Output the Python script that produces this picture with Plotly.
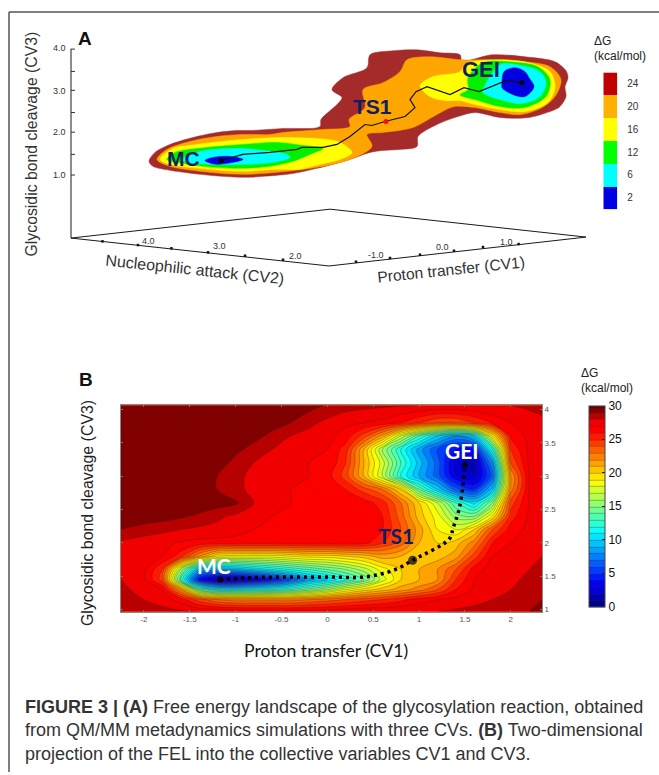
import plotly.graph_objects as go

W, H = 659, 775

# ---------- Panel B data ----------
cv1 = [-2.25,-2.0,-1.8,-1.6,-1.4,-1.2,-1.0,-0.8,-0.6,-0.4,-0.2,0,0.2,0.4,0.6,0.8,1.0,1.2,1.4,1.6,1.8,2.0,2.2,2.34]
cv3 = [0.97,1.15,1.3,1.45,1.6,1.8,2.0,2.2,2.4,2.6,2.8,3.0,3.2,3.4,3.6,3.8,4.06]
dg = [
 [28.4,28.4,28.3,28.2,28.0,28.0,27.8,27.6,27.6,27.6,27.6,27.6,27.8,28.0,28.0,28.0,28.0,28.0,28.2,28.3,28.5,28.6,29.0,29.6],
 [28.3,28.0,27.6,26.5,24.5,23.0,22.5,22.5,22.5,22.5,23.0,23.5,24.0,24.5,25.0,25.7,26.5,27.0,27.3,27.7,28.0,28.2,28.6,29.0],
 [28.2,27.7,27.0,22.0,14.0,11.0,11.0,11.5,12.0,13.0,14.5,16.0,18.0,19.5,20.5,21.5,22.5,24.0,26.0,27.2,27.8,28.0,28.3,28.6],
 [28.0,27.3,24.5,13.0,4.0,1.5,1.5,2.5,4.0,6.0,8.5,10.0,12.0,14.0,17.5,20.0,21.0,22.0,25.0,27.0,27.7,27.9,28.1,28.4],
 [27.9,27.2,25.0,16.0,9.0,8.5,9.0,10.0,11.0,12.0,13.0,14.0,15.0,16.5,18.5,20.0,21.0,22.0,24.0,26.5,27.5,27.8,28.0,28.2],
 [27.8,27.4,27.0,25.5,22.0,19.0,18.5,18.5,18.5,19.0,19.5,19.5,20.0,20.5,21.5,21.0,20.0,20.5,21.5,24.5,27.0,27.5,27.8,28.0],
 [27.8,27.4,27.2,26.9,26.7,26.6,26.6,26.6,26.6,26.6,26.6,26.6,26.6,26.4,25.0,23.5,21.0,20.0,20.5,22.5,26.0,27.0,27.3,27.6],
 [29.0,28.6,28.3,28.0,27.8,27.7,27.4,27.0,27.0,27.0,27.0,27.0,27.0,26.8,26.0,24.0,21.5,19.0,18.0,20.0,24.0,26.5,27.3,27.6],
 [29.8,29.6,29.5,29.2,28.8,28.2,27.8,27.3,27.0,27.0,27.0,27.0,27.0,26.5,26.0,23.5,20.5,18.5,15.5,15.0,19.0,25.5,27.2,27.6],
 [30.0,30.0,29.9,29.9,29.8,29.6,29.2,28.0,27.5,27.0,27.0,27.0,26.8,26.5,25.5,23.0,20.0,17.0,13.0,10.5,15.0,24.5,27.1,27.5],
 [30.0,30.0,30.0,30.0,30.0,29.0,28.2,27.8,27.3,27.0,27.0,26.5,26.0,24.5,23.0,20.0,14.0,10.0,6.5,5.0,9.5,22.5,27.0,27.4],
 [30.0,30.0,30.0,30.0,29.8,29.0,28.2,27.8,27.5,27.2,27.0,26.5,24.5,21.0,17.0,12.0,9.0,6.5,3.0,2.0,6.5,22.0,27.0,27.4],
 [30.0,30.0,30.0,30.0,30.0,29.7,28.6,28.0,27.5,27.2,27.0,27.0,25.0,21.0,17.5,13.0,9.5,6.5,2.5,1.8,8.0,24.0,27.2,27.5],
 [30.0,30.0,30.0,30.0,30.0,29.9,29.3,28.6,28.0,27.5,27.2,27.0,25.5,21.0,16.0,12.0,8.5,6.0,4.0,4.0,12.0,25.0,27.3,27.5],
 [30.0,30.0,30.0,30.0,30.0,30.0,29.9,29.4,28.7,28.0,27.6,27.3,26.6,24.5,21.5,17.0,13.0,10.0,8.0,10.0,19.0,26.3,27.3,27.6],
 [30.0,30.0,30.0,30.0,30.0,30.0,30.0,29.9,29.5,29.0,28.3,27.7,27.2,27.0,26.7,26.0,25.0,24.0,24.0,25.0,26.2,27.0,27.5,27.8],
 [30.0,30.0,30.0,30.0,30.0,30.0,30.0,30.0,30.0,29.9,29.4,28.9,28.5,28.3,28.2,28.1,28.0,28.0,28.0,28.0,28.0,28.0,28.2,28.3],
]
path_b_x = [-1.17,-0.8,-0.4,0.0,0.41,0.74,0.93,1.33,1.37,1.43,1.47,1.5]
path_b_y = [1.45,1.48,1.49,1.49,1.49,1.6,1.74,2.06,2.22,2.47,2.77,3.17]
states_b_x = [-1.17,0.93,1.5]
states_b_y = [1.45,1.74,3.17]
ticks_b_x = [-2,-1.5,-1,-0.5,0,0.5,1,1.5,2]
ticks_b_y = [1,1.5,2,2.5,3,3.5,4]

# ---------- Panel A data (projected 3-D landscape, outlines per energy level) ----------
a24_x = [149,155,170,193,217,237,250,283,320,321,337,342,332,343,367,370,393,417,440,460,462,492,525,555,566,568,565,566,560,555,529,500,475,458,437,418,417,400,383,370,347,317,294,277,243,210,170,153]
a24_y = [162,153,145,138,133,131,131,129,127,120,105,98,90,78,68,55,51,50,53,55,61,55,57,62,71,78,87,97,107,110,118,118,113,117,125,137,147,150,151,153,161,169,174,176,178,176,171,167]
a20_x = [157,167,190,217,243,270,283,323,350,349,365,363,383,400,407,430,460,492,525,550,561,555,542,521,500,475,454,437,413,383,367,372,350,317,277,243,210,170]
a20_y = [160,150,142,137,135,135,133,130,127,120,108,90,83,72,60,57,60,60,62,67,80,97,108,115,113,108,107,115,128,133,135,147,160,168,173,175,173,167]
a16l_x = [160,173,197,243,283,327,340,352,340,320,300,277,243,210,170]
a16l_y = [160,149,145,140,138,140,143,153,160,165,170,170,172,170,165]
a16r_x = [420,433,460,466,500,529,550,555,548,525,500,475,460,445,430]
a16r_y = [86,77,72,64,60,63,72,87,103,112,110,105,101,101,97]
a12l_x = [167,175,207,243,277,303,323,310,293,270,237,203,177]
a12l_y = [160,153,148,145,143,146,149,155,162,167,169,167,163]
a12r_x = [468,483,508,538,550,546,525,500,475,460,468]
a12r_y = [78,63,62,67,80,97,108,107,100,95,90]
a6l_x = [182,200,237,263,287,290,273,243,210,187]
a6l_y = [160,152,149,151,155,158,163,165,165,163]
a6r_x = [483,500,517,540,546,540,521,500,483]
a6r_y = [90,65,65,72,83,97,104,100,93]
a2l_x = [205,213,230,243,233,217,208]
a2l_y = [161,158,157,160,163,165,163]
a2r_x = [502,504,515,525,529,534,525,513,502]
a2r_y = [83,72,68,72,78,87,97,95,88]
path_a_x = [221,243,270,297,302,323,337,350,365,372,385,405,415,410,416,427,450,464,479,500,506,522]
path_a_y = [161,155,153,150,148,148,145,137,125,126,122,117,108,100,92,87,95,88,92,83,81,83]
base_ticks_x = [102.5,138,171.4,208,245,283,356,390,420,454,483,518.6]
base_ticks_y = [242.3,246,249.3,253.3,256.7,260.7,262.7,259,255.7,251.7,248,245]
legend_levels = ["2","6","12","16","20","24"]

BROWN, ORANGE, YELLOW, GREEN, CYAN, BLUE = "#A52A2A", "#FFA500", "#FFFF00", "#00F000", "#00FFFF", "#0000E0"
JET = [[0,"#00007F"],[0.125,"#0000FF"],[0.375,"#00FFFF"],[0.625,"#FFFF00"],[0.875,"#FF0000"],[0.917,"#F00000"],[1,"#640000"]]

fx = lambda p: p / W
fy = lambda p: 1 - p / H

fig = go.Figure()

# Panel B: contour map
fig.add_trace(go.Contour(
    x=cv1, y=cv3, z=dg, xaxis="x", yaxis="y", colorscale=JET, zmin=0, zmax=30,
    autocontour=False, contours=dict(start=0, end=30, size=1, coloring="fill"),
    line=dict(color="rgba(70,40,10,0.55)", width=0.6, smoothing=1),
    colorbar=dict(x=fx(589), xanchor="left", y=fy(609), yanchor="bottom", len=201,
                  lenmode="pixels", thickness=16, thicknessmode="pixels", xpad=0, ypad=0,
                  tickvals=[0,5,10,15,20,25,30], ticks="inside", ticklen=3, tickcolor="#222",
                  tickfont=dict(family="Liberation Sans", size=12, color="#111"),
                  outlinecolor="#444", outlinewidth=1),
    showscale=True, hoverinfo="skip"))
fig.add_trace(go.Scatter(x=path_b_x, y=path_b_y, xaxis="x", yaxis="y", mode="lines",
                         line=dict(color="black", width=3.5, dash="3px,4px", shape="spline"),
                         showlegend=False, hoverinfo="skip"))
fig.add_trace(go.Scatter(x=states_b_x, y=states_b_y, xaxis="x", yaxis="y", mode="markers",
                         marker=dict(color="black", size=[6,9,7], line=dict(width=0)), showlegend=False, hoverinfo="skip"))

# Panel A: nested energy regions
for xs, ys, col in [(a24_x,a24_y,BROWN),(a20_x,a20_y,ORANGE),(a16l_x,a16l_y,YELLOW),(a16r_x,a16r_y,YELLOW),
                    (a12l_x,a12l_y,GREEN),(a12r_x,a12r_y,GREEN),(a6l_x,a6l_y,CYAN),(a6r_x,a6r_y,CYAN),
                    (a2l_x,a2l_y,BLUE),(a2r_x,a2r_y,BLUE)]:
    fig.add_trace(go.Scatter(x=xs+xs[:1], y=ys+ys[:1], xaxis="x2", yaxis="y2", mode="lines", fill="toself",
                             fillcolor=col, line=dict(color=col, width=0.5, shape="spline", smoothing=0.9),
                             showlegend=False, hoverinfo="skip"))
fig.add_trace(go.Scatter(x=path_a_x, y=path_a_y, xaxis="x2", yaxis="y2", mode="lines",
                         line=dict(color="#111", width=1.2), showlegend=False, hoverinfo="skip"))
fig.add_trace(go.Scatter(x=[path_a_x[0], path_a_x[-1]], y=[path_a_y[0], path_a_y[-1]], xaxis="x2", yaxis="y2",
                         mode="markers", marker=dict(color="black", size=5), showlegend=False, hoverinfo="skip"))
fig.add_trace(go.Scatter(x=[386], y=[122], xaxis="x2", yaxis="y2", mode="markers",
                         marker=dict(color="#F01010", size=5), showlegend=False, hoverinfo="skip"))

# Panel A: 3-D frame
fig.add_trace(go.Scatter(x=[71,71,330,586,329,71], y=[49,239,210,238,267,239], xaxis="x2", yaxis="y2", mode="lines",
                         line=dict(color="#1a1a1a", width=1), showlegend=False, hoverinfo="skip"))
fig.add_trace(go.Scatter(x=base_ticks_x, y=base_ticks_y, xaxis="x2", yaxis="y2", mode="markers",
                         marker=dict(color="#111", size=2.5, symbol="square"), showlegend=False, hoverinfo="skip"))
for ty in [49.3,71.7,90.7,113,132.7,155,175.7]:
    fig.add_trace(go.Scatter(x=[71,75], y=[ty,ty], xaxis="x2", yaxis="y2", mode="lines",
                             line=dict(color="#333", width=1), showlegend=False, hoverinfo="skip"))

# Panel A: stepped legend
fig.add_trace(go.Heatmap(z=[[0],[1],[2],[3],[4],[5]], y=legend_levels, x=[0], xaxis="x3", yaxis="y3", showscale=False,
                         colorscale=[[0,BLUE],[1/6,BLUE],[1/6,CYAN],[2/6,CYAN],[2/6,"#00FF00"],[3/6,"#00FF00"],
                                     [3/6,YELLOW],[4/6,YELLOW],[4/6,"#FFB000"],[5/6,"#FFB000"],[5/6,"#C00000"],[1,"#C00000"]],
                         zmin=-0.5, zmax=5.5, hoverinfo="skip"))

def label(text, x, y, size=12, color="#222", family="Liberation Sans", angle=0, anchor="center"):
    fig.add_annotation(text=text, x=fx(x), y=fy(y), xref="paper", yref="paper", showarrow=False, xanchor=anchor,
                       yanchor="middle", textangle=angle, font=dict(size=size, color=color, family=family))

NAVY = "#0E1F63"
# Panel letters and titles
label("<b>A</b>", 85, 39, 19, "#111")
label("<b>B</b>", 86, 381, 19, "#111")
label("Glycosidic bond cleavage (CV3)", 31.5, 144.5, 15.8, "#333", angle=-90)
label("Nucleophilic attack (CV2)", 195, 271, 16, "#333", angle=6)
label("Proton transfer (CV1)", 451, 271, 15.6, "#333", angle=-6)
for txt, ly in [("4.0",47.7),("3.0",91),("2.0",133),("1.0",176)]:
    label(txt, 59, ly, 9, "#333")
for txt, lx, ly in [("4.0",148,242),("3.0",219,247),("2.0",295,257),("-1.0",376,256),("0.0",442.5,248),("1.0",506,243)]:
    label(txt, lx, ly, 9, "#333")
label("ΔG", 592, 40.7, 12, "#222", anchor="left")
label("(kcal/mol)", 592, 56.7, 12, "#222", anchor="left")
label("<b>MC</b>", 183, 159, 21, NAVY)
label("<b>TS1</b>", 372, 107, 21, NAVY)
label("<b>GEI</b>", 481, 70, 22, NAVY)

label("Glycosidic bond cleavage (CV3)", 87.5, 515.5, 15.9, "#222", angle=-90)
label("Proton transfer (CV1)", 325.5, 652.7, 17.6, "#111", family="Lato")
label("ΔG", 579, 374, 12, "#222", anchor="left")
label("(kcal/mol)", 579, 390, 12, "#222", anchor="left")
label("<b>MC</b>", 214, 568, 21, "white", family="Lato")
label("<b>TS1</b>", 396, 538, 21, NAVY, family="Lato")
label("<b>GEI</b>", 462, 452, 21, "white", family="Lato")

# Caption
for line, ly in [("<b>FIGURE 3 | (A)</b> Free energy landscape of the glycosylation reaction, obtained", 710),
                 ("from QM/MM metadynamics simulations with three CVs. <b>(B)</b> Two-dimensional", 733),
                 ("projection of the FEL into the collective variables CV1 and CV3.", 757)]:
    label(line, 23, ly, 18, "#333", anchor="left")

# Outer frame of the figure panel
fig.add_shape(type="line", xref="paper", yref="paper", x0=fx(9), x1=fx(9), y0=0, y1=fy(12), line=dict(color="#555", width=1.5))
fig.add_shape(type="line", xref="paper", yref="paper", x0=fx(9), x1=1, y0=fy(12), y1=fy(12), line=dict(color="#555", width=1.5))

fig.update_layout(
    width=W, height=H, margin=dict(l=0, r=0, t=0, b=0), paper_bgcolor="white", plot_bgcolor="white",
    showlegend=False,
    xaxis=dict(domain=[fx(121), fx(542)], range=[-2.25, 2.34], tickvals=ticks_b_x, ticktext=[str(t) for t in ticks_b_x],
               ticks="inside", ticklen=2, tickcolor="#777", tickfont=dict(size=8, color="#555", family="Liberation Sans"),
               showgrid=False, zeroline=False, showline=True, linecolor="#888", mirror="allticks"),
    yaxis=dict(domain=[fy(614), fy(407)], range=[0.97, 4.06], side="right", tickvals=ticks_b_y, ticktext=[str(t) for t in ticks_b_y],
               ticks="inside", ticklen=2, tickcolor="#777", tickfont=dict(size=8, color="#555", family="Liberation Sans"),
               showgrid=False, zeroline=False, showline=True, linecolor="#888", mirror="allticks"),
    xaxis2=dict(domain=[0, 1], range=[0, W], visible=False),
    yaxis2=dict(domain=[fy(300), 1], range=[300, 0], visible=False),
    xaxis3=dict(domain=[fx(603.3), fx(617.3)], visible=False),
    yaxis3=dict(domain=[fy(210), fy(72.7)], side="right", type="category", showgrid=False, zeroline=False, ticks="",
                tickfont=dict(size=10, color="#333", family="Liberation Sans"), anchor="x3", ticklabelstandoff=9),
)

fig.write_html("out.html", post_script="document.body.style.margin='0';", config={"displayModeBar": False})
